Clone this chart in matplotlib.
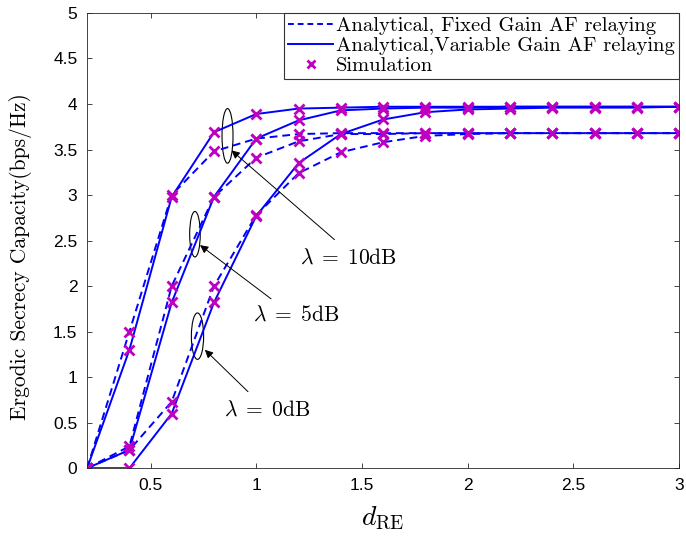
import numpy as np
import matplotlib
matplotlib.use("Agg")
import matplotlib.pyplot as plt
from matplotlib.patches import Ellipse

plt.rcParams["mathtext.fontset"] = "cm"
plt.rcParams["font.family"] = ["Liberation Sans", "DejaVu Sans"]

# distance relay-eavesdropper
d_re = [0.2, 0.4, 0.6, 0.8, 1.0, 1.2, 1.4, 1.6, 1.8, 2.0, 2.2, 2.4, 2.6, 2.8, 3.0]

# lambda = 10 dB
var_10 = [0, 1.30, 2.98, 3.69, 3.89, 3.95, 3.96, 3.97, 3.97, 3.97, 3.97, 3.97, 3.97, 3.97, 3.97]
fix_10 = [0, 1.50, 3.00, 3.48, 3.62, 3.67, 3.68, 3.68, 3.68, 3.68, 3.68, 3.68, 3.68, 3.68, 3.68]
# lambda = 5 dB
var_5 = [0, 0.20, 1.82, 2.98, 3.62, 3.82, 3.93, 3.95, 3.96, 3.96, 3.97, 3.97, 3.97, 3.97, 3.97]
fix_5 = [0, 0.24, 2.00, 2.98, 3.41, 3.59, 3.67, 3.67, 3.68, 3.68, 3.68, 3.68, 3.68, 3.68, 3.68]
# lambda = 0 dB
var_0 = [0, 0.00, 0.60, 1.82, 2.77, 3.35, 3.67, 3.83, 3.91, 3.94, 3.95, 3.96, 3.96, 3.96, 3.97]
fix_0 = [0, 0.20, 0.73, 2.00, 2.78, 3.24, 3.47, 3.58, 3.65, 3.67, 3.68, 3.68, 3.68, 3.68, 3.68]

legend_labels = ["Analytical, Fixed Gain AF relaying",
                 "Analytical,Variable Gain AF relaying",
                 "Simulation"]

BLUE = "#0000FF"
MAG = "#C000C0"
SERIF = "cmr10"

fig = plt.figure(figsize=(6.86, 5.40), dpi=100)
ax = fig.add_axes([0.127, 0.133, 0.863, 0.843])

for fx, vr in [(fix_10, var_10), (fix_5, var_5), (fix_0, var_0)]:
    ax.plot(d_re, fx, "--", color=BLUE, lw=1.4, dashes=(4, 2.5))
    ax.plot(d_re, vr, "-", color=BLUE, lw=1.4)
for s in [fix_10, var_10, fix_5, var_5, fix_0, var_0]:
    ax.plot(d_re, s, "x", color=MAG, ms=6.5, mew=2.0, ls="none")

# legend handles
h1, = ax.plot([], [], "--", color=BLUE, lw=1.4, dashes=(3, 2))
h2, = ax.plot([], [], "-", color=BLUE, lw=1.4)
h3, = ax.plot([], [], "x", color=MAG, ms=6, mew=2.0, ls="none")
leg = ax.legend([h1, h2, h3], legend_labels, loc="upper right",
                borderaxespad=0, prop={"family": SERIF, "size": 14.8},
                fancybox=False, framealpha=1, edgecolor="#333333",
                handlelength=2.2, handletextpad=0.15, labelspacing=0.06,
                borderpad=0.2)
leg.get_frame().set_linewidth(0.8)

# ellipses + annotations
for (cx, cy, w, h) in [(0.864, 3.65, 0.052, 0.60), (0.71, 2.57, 0.05, 0.50), (0.722, 1.45, 0.058, 0.51)]:
    ax.add_patch(Ellipse((cx, cy), w, h, fill=False, ec="black", lw=0.8))

notes = [(r"$\lambda\;=\;10\mathrm{dB}$", (0.883, 3.49), (1.37, 2.51), (1.434, 2.31)),
         (r"$\lambda\;=\;5\mathrm{dB}$", (0.734, 2.45), (1.07, 1.86), (1.186, 1.68)),
         (r"$\lambda\;=\;0\mathrm{dB}$", (0.757, 1.30), (0.961, 0.84), (1.052, 0.64))]
for txt, tip, tail, pos in notes:
    ax.annotate("", xy=tip, xytext=tail,
                arrowprops=dict(arrowstyle="-|>", color="black", lw=0.7,
                                mutation_scale=12, shrinkA=0, shrinkB=0))
    ax.text(pos[0], pos[1], txt, fontsize=15.5, ha="center", va="center")

ax.set_xlim(0.2, 3)
ax.set_ylim(0, 5)
ax.set_xticks([0.5, 1, 1.5, 2, 2.5, 3])
ax.set_xticklabels(["0.5", "1", "1.5", "2", "2.5", "3"])
yt = np.arange(0, 5.01, 0.5)
ax.set_yticks(yt)
ax.set_yticklabels(["0", "0.5", "1", "1.5", "2", "2.5", "3", "3.5", "4", "4.5", "5"])
ax.tick_params(direction="in", length=3.6, width=0.6, labelsize=12.5,
               top=True, right=True, pad=7, colors="#262626", labelcolor="black")
for sp in ax.spines.values():
    sp.set_linewidth(0.6)
    sp.set_color("#262626")

ax.set_ylabel("Ergodic Secrecy Capacity(bps/Hz)", family=SERIF, fontsize=15.5)
ax.yaxis.set_label_coords(-0.093, 0.465)
ax.set_xlabel(r"$d_{\mathrm{RE}}$", fontsize=20, labelpad=9)

fig.savefig("out.png", dpi=100)
